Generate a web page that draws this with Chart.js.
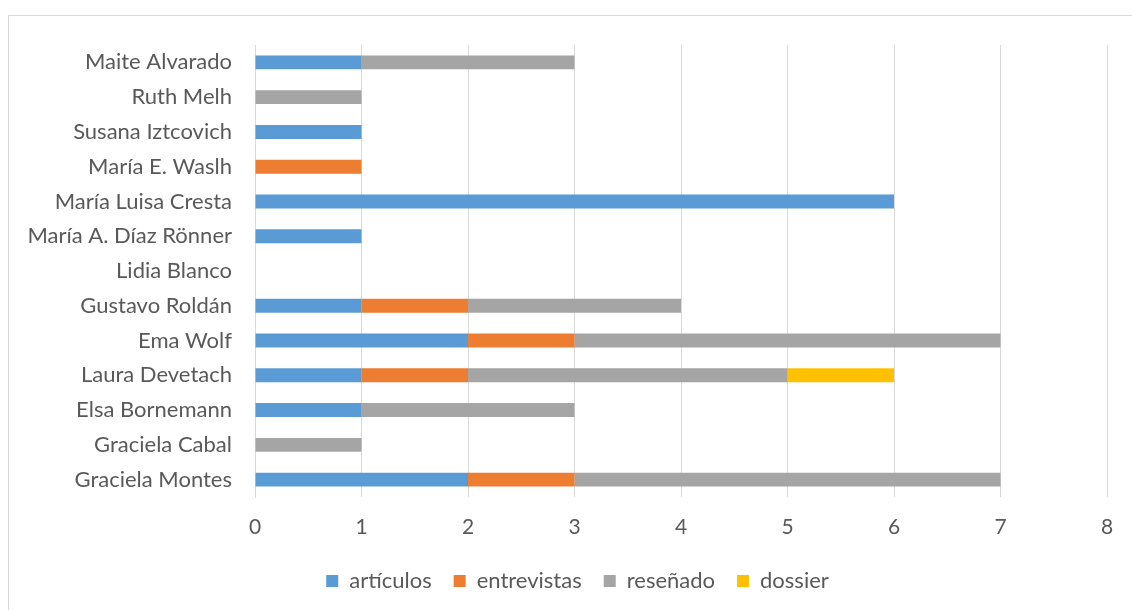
<!DOCTYPE html>
<html><head><meta charset="utf-8">
<script src="https://cdn.jsdelivr.net/npm/chart.js@4/dist/chart.umd.min.js"></script>
<style>
html,body{margin:0;padding:0;background:#fff;}
#frame{position:absolute;left:8px;top:15px;width:1140px;height:620px;border:1px solid #d9d9d9;box-sizing:border-box;}
#wrap{position:absolute;left:0;top:0;width:1132px;height:610px;}
</style></head>
<body>
<div id="frame"></div>
<div id="wrap"><canvas id="c" width="1132" height="610"></canvas></div>
<script>
const categories = ["Maite Alvarado","Ruth Melh","Susana Iztcovich","María E. Waslh","María Luisa Cresta","María A. Díaz Rönner","Lidia Blanco","Gustavo Roldán","Ema Wolf","Laura Devetach","Elsa Bornemann","Graciela Cabal","Graciela Montes"];
const articulos   = [1,0,1,0,6,1,0,1,2,1,1,0,2];
const entrevistas = [0,0,0,1,0,0,0,1,1,1,0,0,1];
const resenado    = [2,1,0,0,0,0,0,2,4,3,2,1,4];
const dossier     = [0,0,0,0,0,0,0,0,0,1,0,0,0];
const seriesNames = ["artículos","entrevistas","reseñado","dossier"];
const colors = ["#5b9bd5","#ed7d31","#a5a5a5","#ffc000"];
const xTicks = [0,1,2,3,4,5,6,7,8];

const font = "Lato, 'Open Sans', sans-serif";
const txt = "#595959";
const mk = (label, data, color) => ({label, data, backgroundColor: color, borderWidth: 0, barPercentage: 0.8, categoryPercentage: 0.5});

const shiftLegend = {
  id: 'shiftLegend',
  afterLayout(chart) {
    const lg = chart.legend;
    if (lg) { lg.left += 24; lg.right += 24; }
  }
};

new Chart(document.getElementById('c'), {
  type: 'bar',
  data: {
    labels: categories,
    datasets: [
      mk(seriesNames[0], articulos, colors[0]),
      mk(seriesNames[1], entrevistas, colors[1]),
      mk(seriesNames[2], resenado, colors[2]),
      mk(seriesNames[3], dossier, colors[3])
    ]
  },
  plugins: [shiftLegend],
  options: {
    indexAxis: 'y',
    responsive: false,
    animation: false,
    layout: {padding: {left: 0, right: 25, top: 45, bottom: 8}},
    scales: {
      x: {
        stacked: true, min: 0, max: 8,
        afterBuildTicks: s => { s.ticks = xTicks.map(v => ({value: v})); },
        grid: {color: '#d9d9d9', lineWidth: 1, drawTicks: false},
        border: {display: false},
        ticks: {color: txt, font: {family: font, size: 21}, padding: 18},
        afterFit: s => { s.height = 51; }
      },
      y: {
        stacked: true,
        grid: {display: false, drawTicks: false},
        border: {display: true, color: '#d9d9d9'},
        ticks: {color: txt, font: {family: font, size: 22}, padding: 23},
        afterFit: s => { s.width = 255; }
      }
    },
    plugins: {
      legend: {
        position: 'bottom',
        labels: {color: txt, font: {family: font, size: 22}, boxWidth: 12, boxHeight: 12, padding: 22, useBorderRadius: false}
      },
      tooltip: {enabled: false}
    }
  }
});
</script>
</body></html>
